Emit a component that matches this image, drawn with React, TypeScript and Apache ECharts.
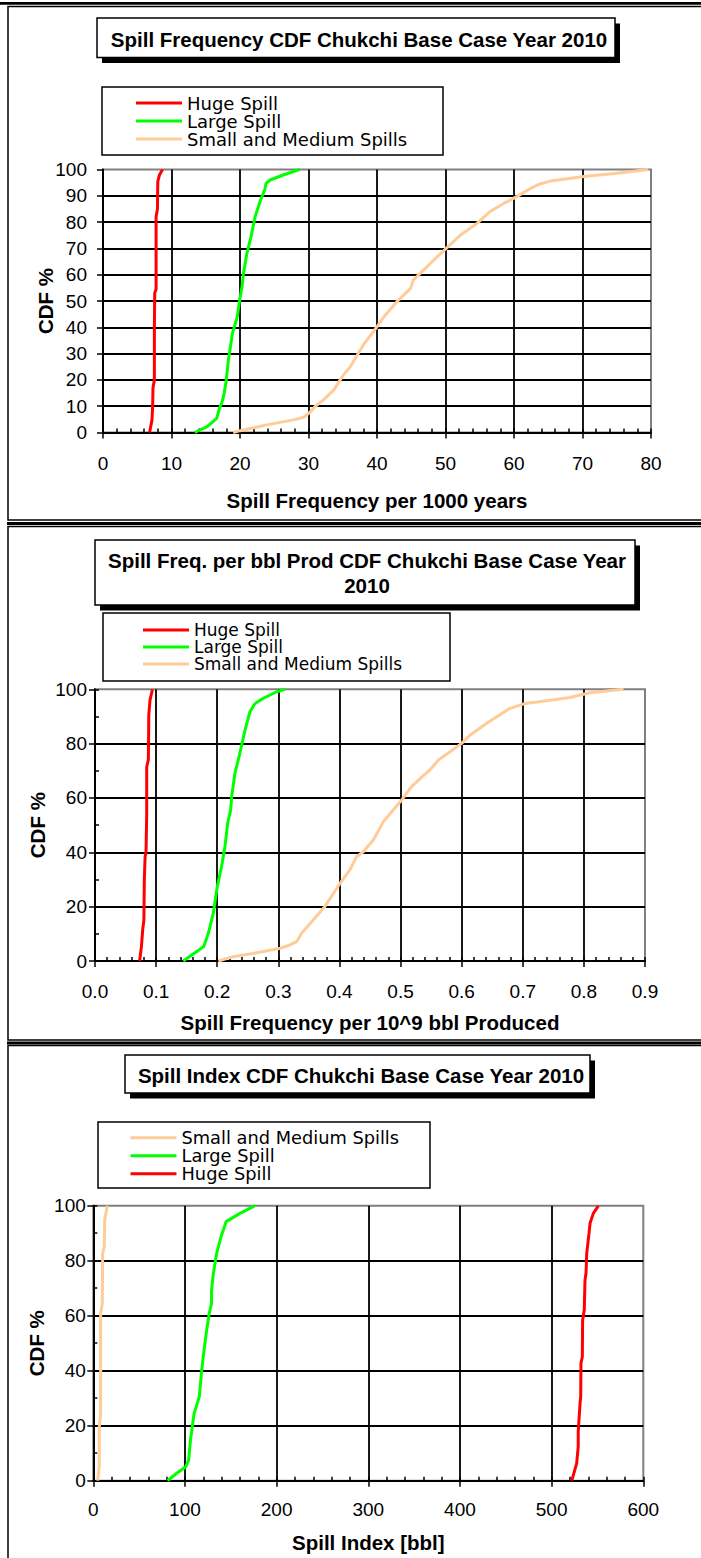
import React, { useEffect, useRef } from 'react';
import * as echarts from 'echarts';

const FONT = '"Liberation Sans", Arial, Helvetica, sans-serif';
const LEGEND_FONT = '"DejaVu Sans", "Liberation Sans", Arial, sans-serif';
const HUGE_COLOR = '#FF0000';
const LARGE_COLOR = '#00FF00';
const SMALL_COLOR = '#FFCC99';

const NAME_HUGE = 'Huge Spill';
const NAME_LARGE = 'Large Spill';
const NAME_SMALL = 'Small and Medium Spills';

// Panel 1: spill frequency per 1000 years  [value, CDF %]
const freqHuge: [number, number][] = [
  [6.8, 0], [7.15, 4.8], [7.25, 10], [7.3, 17], [7.5, 20], [7.5, 40], [7.55, 53],
  [7.75, 54.5], [7.75, 82], [7.95, 85], [8.0, 95.5], [8.25, 98], [8.7, 100],
];
const freqLarge: [number, number][] = [
  [13.4, 0], [15.2, 2.2], [16.6, 5.4], [17.0, 9.2], [17.4, 11.7], [17.7, 15], [18.0, 20],
  [18.3, 27.5], [18.9, 37.7], [19.6, 44], [19.95, 50.4], [20.3, 55.4], [20.5, 60.5],
  [21.0, 68], [21.6, 74.4], [22.2, 82], [23.0, 88.4], [23.6, 92.2], [23.8, 94.7],
  [24.4, 96], [26.4, 98], [28.7, 100],
];
const freqSmall: [number, number][] = [
  [19, 0], [20, 0.7], [23.9, 2.9], [27.8, 4.8], [29.3, 5.8], [30.3, 7.9], [31, 10],
  [32.2, 12.4], [33.7, 16.2], [35.1, 21.9], [36.1, 25], [38, 33.3], [40, 40.2], [41, 44],
  [42.9, 49.7], [44.9, 54.8], [45.3, 58], [46.3, 60.5], [48.3, 65.6], [50.1, 70],
  [52.2, 75.1], [54.6, 79.5], [56.5, 84], [58.5, 87.1], [60.4, 89.7], [62.4, 92.8],
  [63.8, 94.5], [65.3, 95.6], [70.2, 97.3], [75, 98.6], [79.6, 100],
];

// Panel 2: spill frequency per 10^9 bbl produced
const prodHuge: [number, number][] = [
  [0.073, 0], [0.076, 5.3], [0.078, 11.4], [0.08, 15], [0.0807, 29.8], [0.082, 38.4],
  [0.0835, 40.2], [0.0846, 54.4], [0.0846, 71.5], [0.0873, 74], [0.0878, 85],
  [0.088, 90.5], [0.09, 96], [0.094, 100],
];
const prodLarge: [number, number][] = [
  [0.1445, 0], [0.166, 3.4], [0.178, 5.3], [0.1855, 10.2], [0.1936, 17.6], [0.2, 27.3],
  [0.207, 34.7], [0.2127, 42.1], [0.217, 50.7], [0.222, 55.6], [0.2237, 60.5],
  [0.229, 69.1], [0.237, 76.4], [0.2455, 85], [0.2536, 91.8], [0.262, 94.8],
  [0.2754, 96.7], [0.2864, 97.9], [0.2973, 99.1], [0.311, 100],
];
const prodSmall: [number, number][] = [
  [0.202, 0], [0.226, 1.6], [0.259, 2.8], [0.303, 4.7], [0.319, 5.9], [0.33, 7.1],
  [0.338, 10.2], [0.357, 15.1], [0.376, 20], [0.401, 28.6], [0.417, 33.5], [0.428, 38.4],
  [0.439, 40.2], [0.4555, 44.5], [0.472, 51.3], [0.488, 55.6], [0.502, 59.3],
  [0.518, 64.2], [0.535, 67.8], [0.548, 70.3], [0.562, 74], [0.581, 77], [0.6, 80.1],
  [0.614, 83.2], [0.641, 87.5], [0.679, 93], [0.704, 94.8], [0.745, 96], [0.777, 97],
  [0.81, 98.7], [0.865, 100],
];

// Panel 3: spill index [bbl]
const indexSmall: [number, number][] = [
  [4.8, 0], [6.5, 5.1], [6.5, 19.6], [8, 24.5], [8, 60.9], [9.8, 64.5], [10.2, 82.7],
  [12, 85.1], [12.4, 94.8], [15.3, 100],
];
const indexLarge: [number, number][] = [
  [81, 0], [91, 2.7], [101, 5.1], [104, 7.5], [106, 14.8], [110, 24.5], [115.6, 30.5],
  [118.3, 40.3], [120.8, 47.5], [123.7, 54.8], [126.5, 60.9], [129, 64.5], [129, 69.3],
  [131, 75.4], [134.6, 82.7], [139.3, 88.7], [143.7, 93], [144.8, 94.2], [160, 97.2],
  [176.4, 100],
];
const indexHuge: [number, number][] = [
  [522, 0], [527.3, 6.3], [529, 12.4], [529, 17.8], [531, 28.1], [531.7, 30.5], [532, 42.7],
  [533.5, 45.1], [533.8, 58.4], [535.6, 62.1], [536.4, 73], [537.5, 75.4], [538.3, 82.7],
  [540.8, 90], [541.9, 93.6], [545.5, 97.2], [551, 100],
];

const TITLE_1 = 'Spill Frequency CDF Chukchi Base Case Year 2010';
const TITLE_2 = 'Spill Freq. per bbl Prod CDF Chukchi Base Case Year\n2010';
const TITLE_3 = 'Spill Index CDF Chukchi Base Case Year 2010';
const XNAME_1 = 'Spill Frequency per 1000 years';
const XNAME_2 = 'Spill Frequency per 10^9 bbl Produced';
const XNAME_3 = 'Spill Index [bbl]';
const YNAME = 'CDF %';

const LEGEND_ORDER_12 = [NAME_HUGE, NAME_LARGE, NAME_SMALL];
const LEGEND_ORDER_3 = [NAME_SMALL, NAME_LARGE, NAME_HUGE];

const GRID_W = 1.8;

function mainX(gridIndex: number, min: number, max: number, interval: number, name: string,
  nameGap: number, labelMargin: number, decimals: number) {
  return {
    type: 'value', gridIndex, min, max, interval, position: 'bottom',
    name, nameLocation: 'middle', nameGap, nameMoveOverlap: false,
    nameTextStyle: { fontSize: 20.5, fontWeight: 'bold', fontFamily: FONT, color: '#000' },
    axisLine: { show: true, onZero: false, lineStyle: { color: '#000', width: 2 } },
    axisTick: { show: true, inside: false, length: 6, lineStyle: { color: '#000', width: 1.5 } },
    axisLabel: {
      show: true, fontSize: 19, fontFamily: FONT, color: '#000', margin: labelMargin,
      formatter: (v: number) => v.toFixed(decimals),
    },
    splitLine: { show: true, showMaxLine: false, lineStyle: { color: '#000', width: GRID_W } },
  };
}
function minorX(gridIndex: number, min: number, max: number, interval: number) {
  return {
    type: 'value', gridIndex, min, max, interval, position: 'bottom',
    axisLine: { show: false },
    axisTick: { show: true, inside: true, length: 4, lineStyle: { color: '#000', width: 1.5 } },
    axisLabel: { show: false },
    splitLine: { show: false },
  };
}
function mainY(gridIndex: number, interval: number, labelMargin: number, nameGap: number) {
  return {
    type: 'value', gridIndex, min: 0, max: 100, interval, position: 'left',
    name: YNAME, nameLocation: 'middle', nameGap, nameMoveOverlap: false,
    nameTextStyle: { fontSize: 20.5, fontWeight: 'bold', fontFamily: FONT, color: '#000' },
    axisLine: { show: true, onZero: false, lineStyle: { color: '#000', width: 2 } },
    axisTick: { show: true, inside: false, length: 6, lineStyle: { color: '#000', width: 1.5 } },
    axisLabel: { show: true, fontSize: 19, fontFamily: FONT, color: '#000', margin: labelMargin },
    splitLine: { show: true, showMaxLine: false, lineStyle: { color: '#000', width: GRID_W } },
  };
}
function minorY(gridIndex: number, interval: number) {
  return {
    type: 'value', gridIndex, min: 0, max: 100, interval, position: 'left',
    axisLine: { show: false },
    axisTick: { show: true, inside: true, length: 4, lineStyle: { color: '#000', width: 1.5 } },
    axisLabel: { show: false },
    splitLine: { show: false },
  };
}

function line(name: string, color: string, data: [number, number][], xAxisIndex: number, yAxisIndex: number) {
  return {
    type: 'line', name, data, xAxisIndex, yAxisIndex,
    color, showSymbol: false, symbol: 'none', smooth: false, silent: true, clip: true,
    lineStyle: { color, width: 3 }, itemStyle: { color },
  };
}

function legend(left: number, top: number, fontSize: number, data: string[]) {
  return {
    orient: 'vertical', left, top, padding: 0, itemGap: 0, itemWidth: 46, itemHeight: 3,
    icon: 'rect', selectedMode: false, data,
    textStyle: { fontSize, fontFamily: LEGEND_FONT, color: '#000' },
  };
}

function titleBox(x: number, y: number, w: number, h: number, cx: number, cy: number, text: string, lh: number) {
  return [
    { type: 'rect', shape: { x: x + 5, y: y + 5.5, width: w, height: h }, style: { fill: '#000' } },
    { type: 'rect', shape: { x, y, width: w, height: h }, style: { fill: '#fff', stroke: '#000', lineWidth: 1.5 } },
    {
      type: 'text', x: cx, y: cy,
      style: {
        text, fill: '#000', fontSize: 20.5, fontWeight: 'bold', fontFamily: FONT,
        align: 'center', verticalAlign: 'middle', textAlign: 'center', textVerticalAlign: 'middle', lineHeight: lh,
      },
    },
  ];
}
function box(x: number, y: number, w: number, h: number) {
  return { type: 'rect', shape: { x, y, width: w, height: h }, style: { fill: '#fff', stroke: '#000', lineWidth: 1.5 } };
}
function frame(x: number, y: number, w: number, h: number) {
  return { type: 'rect', shape: { x, y, width: w, height: h }, style: { fill: 'none', stroke: '#000', lineWidth: 1.5 } };
}
function bar(x: number, y: number, w: number, h: number) {
  return { type: 'rect', shape: { x, y, width: w, height: h }, style: { fill: '#000' } };
}

const gridStyle = { show: true, borderColor: '#808080', borderWidth: 2, backgroundColor: 'transparent', containLabel: false };

export default function App() {
  const ref = useRef<HTMLDivElement>(null);
  useEffect(() => {
    if (!ref.current) return;
    const chart = echarts.init(ref.current, null, { renderer: 'svg' });
    const option: any = {
      animation: false,
      backgroundColor: '#fff',
      grid: [
        { ...gridStyle, left: 103, top: 169.5, width: 548, height: 263 },
        { ...gridStyle, left: 95, top: 689.3, width: 550, height: 271.7 },
        { ...gridStyle, left: 93.3, top: 1205.7, width: 550, height: 275 },
      ],
      xAxis: [
        mainX(0, 0, 80, 10, XNAME_1, 57, 21, 0),
        minorX(0, 0, 80, 2),
        mainX(1, 0, 0.9, 0.1, XNAME_2, 51, 21, 1),
        minorX(1, 0, 0.9, 0.02),
        mainX(2, 0, 600, 100, XNAME_3, 51, 19.5, 0),
        minorX(2, 0, 600, 20),
      ],
      yAxis: [
        mainY(0, 10, 16, 47.5),
        mainY(1, 20, 8, 47.5),
        minorY(1, 10),
        mainY(2, 20, 7.5, 46),
        minorY(2, 10),
      ],
      legend: [
        legend(136, 94, 18, LEGEND_ORDER_12),
        legend(143, 621.5, 17, LEGEND_ORDER_12),
        legend(130.5, 1128.7, 17.8, LEGEND_ORDER_3),
      ],
      series: [
        line(NAME_HUGE, HUGE_COLOR, freqHuge, 0, 0),
        line(NAME_LARGE, LARGE_COLOR, freqLarge, 0, 0),
        line(NAME_SMALL, SMALL_COLOR, freqSmall, 0, 0),
        line(NAME_HUGE, HUGE_COLOR, prodHuge, 2, 1),
        line(NAME_LARGE, LARGE_COLOR, prodLarge, 2, 1),
        line(NAME_SMALL, SMALL_COLOR, prodSmall, 2, 1),
        line(NAME_SMALL, SMALL_COLOR, indexSmall, 4, 3),
        line(NAME_LARGE, LARGE_COLOR, indexLarge, 4, 3),
        line(NAME_HUGE, HUGE_COLOR, indexHuge, 4, 3),
      ],
      graphic: {
        elements: [
          bar(0, 2, 701, 2.7),
          frame(8, 6.5, 720, 513.5),
          bar(7, 522, 700, 3),
          frame(8, 526.5, 720, 513.5),
          bar(7, 1041.5, 700, 3),
          frame(8, 1045.5, 720, 600),
          ...titleBox(97, 18, 518, 39.5, 359, 39, TITLE_1, 20),
          ...titleBox(95, 540, 540, 65, 367, 572.8, TITLE_2, 25.5),
          ...titleBox(125, 1055, 465, 38, 361, 1075, TITLE_3, 20),
          box(102, 87, 341, 68),
          box(103, 613, 347, 68),
          box(98, 1122, 332, 66),
        ],
      },
    };
    chart.setOption(option);
    return () => chart.dispose();
  }, []);
  return (
    <div
      ref={ref}
      style={{ position: 'absolute', left: 0, top: 0, width: 701, height: 1558, background: '#fff' }}
    />
  );
}
